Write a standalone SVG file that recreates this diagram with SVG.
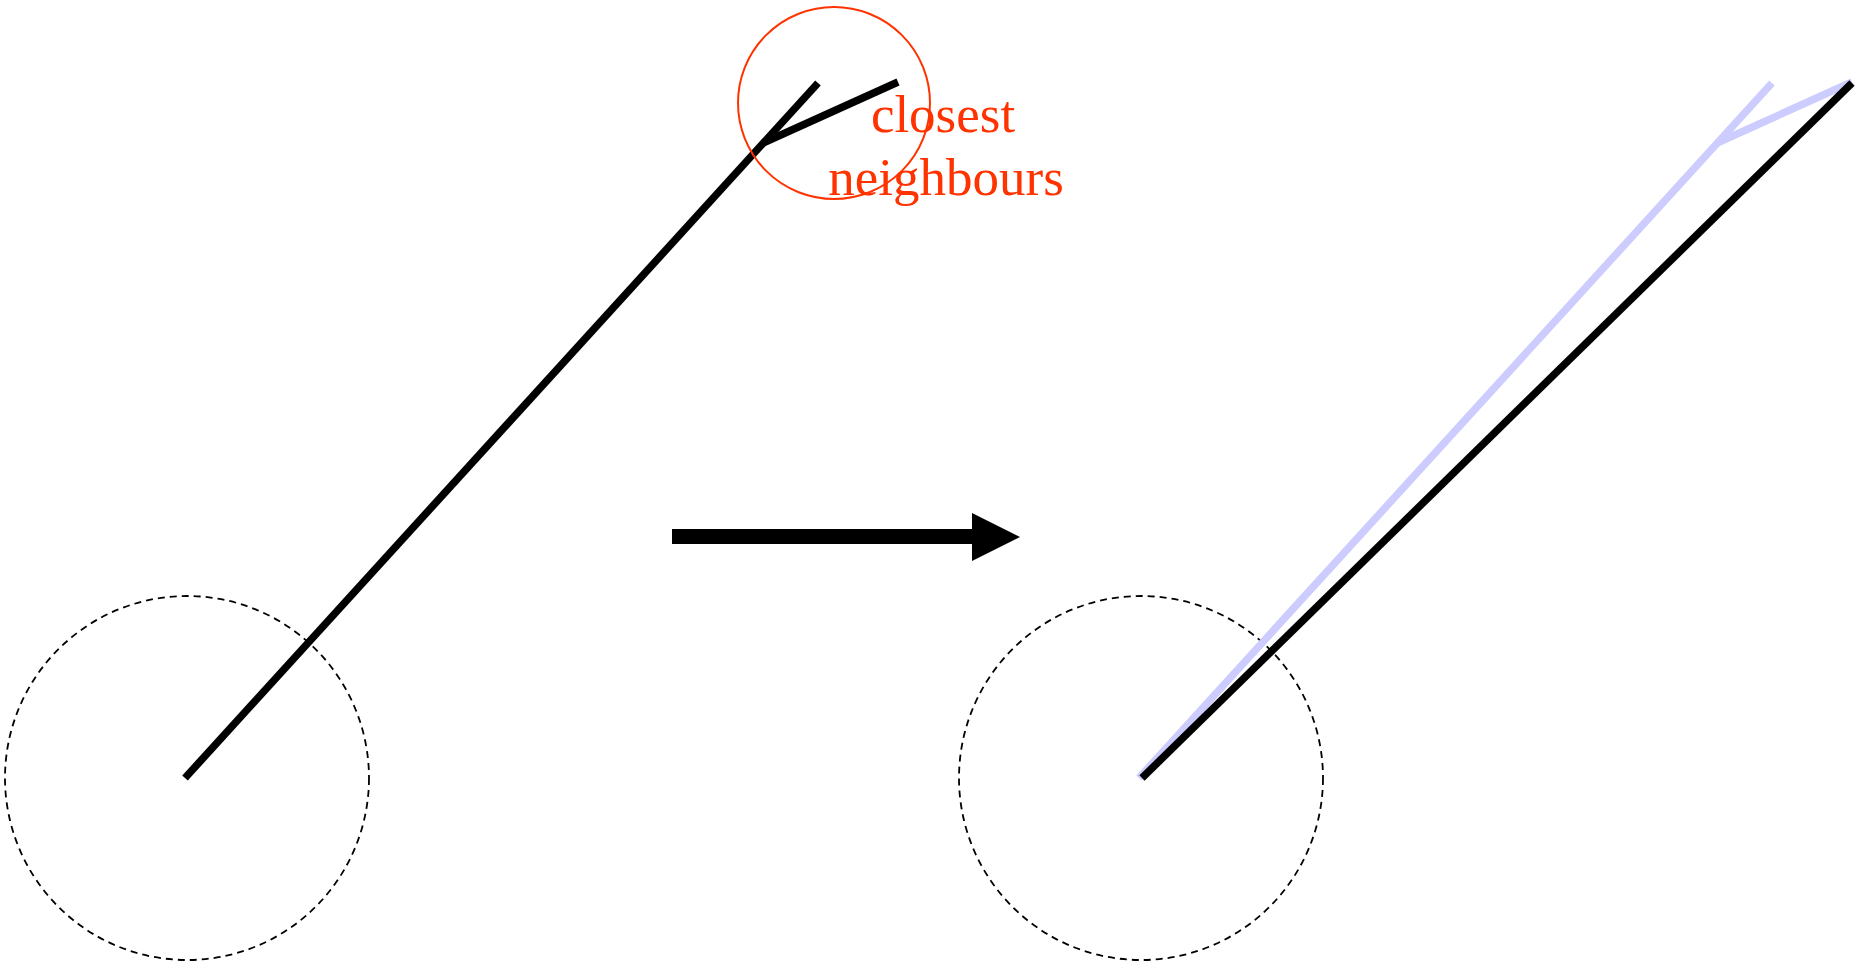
<svg xmlns="http://www.w3.org/2000/svg" width="1858" height="963" viewBox="0 0 1858 963">
<style>
.dash{fill:none;stroke:#000;stroke-width:1.8;stroke-dasharray:7,5}
.thick{fill:none;stroke:#000;stroke-width:7.5;stroke-linecap:butt;stroke-linejoin:miter}
.ghost{fill:none;stroke:#ccccff;stroke-width:7.5;stroke-linecap:butt}
.red{fill:none;stroke:#ff3300;stroke-width:2}
.lbl{font-family:"Liberation Serif",serif;font-size:53px;fill:#ff3300;text-anchor:middle}
</style>
<rect width="1858" height="963" fill="#fff"/>
<g id="left">
<circle class="dash" cx="187" cy="778" r="182"/>
<polyline class="thick" points="185,778 818,83"/>
<polyline class="thick" points="763,143 898,82"/>
</g>
<g id="neighbours">
<circle class="red" cx="834" cy="103" r="96"/>
<text class="lbl" x="943" y="132">closest</text>
<text class="lbl" x="946" y="195">neighbours</text>
</g>
<g id="connectors">
<rect x="672" y="529" width="301" height="15" fill="#000"/>
<polygon points="972,513 1020,537 972,561" fill="#000"/>
</g>
<g id="right">
<circle class="dash" cx="1141" cy="778" r="182"/>
<polyline class="ghost" points="1139,778 1772,83"/>
<polyline class="ghost" points="1717,143 1852,82"/>
<polyline class="thick" points="1142,778 1852,83"/>
</g>
</svg>
